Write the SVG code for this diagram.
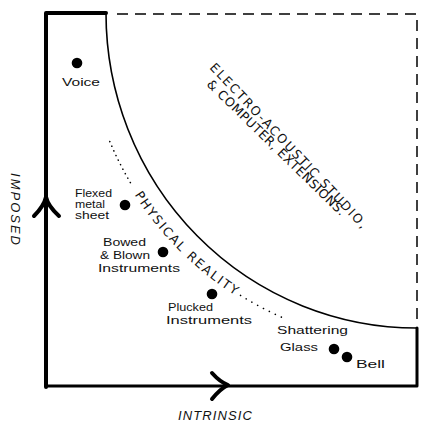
<svg xmlns="http://www.w3.org/2000/svg" width="433" height="426" viewBox="0 0 433 426">
<style>
.lbl{font-family:"Liberation Sans",Arial,sans-serif;font-size:11.5px;fill:#111}
.cap{font-family:"DejaVu Sans","Liberation Sans",sans-serif;font-size:12.5px;fill:#111}
.ax{font-family:"Liberation Sans",Arial,sans-serif;font-size:13px;font-style:italic;fill:#111}
.dot{fill:#000}
.thick{stroke:#000;fill:none;stroke-linecap:round;stroke-linejoin:round}
</style>
<defs>
<path id="physPath" d="M105.5,138.9 A336,336 0 0 0 291.1,324.5"/>
</defs>
<rect width="433" height="426" fill="#fff"/>
<g id="connectors">
<path class="thick" d="M106,13 L46,13 L46,387" stroke-width="4"/>
<path class="thick" d="M46,386 L417,386 L417,328" stroke-width="3"/>
<path d="M106,13 A311,315 0 0 0 417,328" fill="none" stroke="#000" stroke-width="1.6"/>
<path d="M117,14 L417,14 L417,322" fill="none" stroke="#000" stroke-width="1.5" stroke-dasharray="11,7"/>
<path class="thick" d="M34,216 Q44,206 46,197 Q48,206 59,216" stroke-width="4"/>
<path class="thick" d="M212,373 Q220,382 228,385 Q220,389 212,399" stroke-width="4"/>
<path d="M109.8,141.5 A333,333 0 0 0 132.4,186" fill="none" stroke="#000" stroke-width="1.6" stroke-linecap="round" stroke-dasharray="0.1,5"/>
<path d="M240.5,295.4 A333,333 0 0 0 284.8,318.6" fill="none" stroke="#000" stroke-width="1.6" stroke-linecap="round" stroke-dasharray="0.1,6.5"/>
</g>
<g id="axis-imposed">
<text class="ax" transform="translate(11,209) rotate(90)" text-anchor="middle" textLength="72" lengthAdjust="spacing">IMPOSED</text>
</g>
<g id="axis-intrinsic">
<text class="ax" x="178" y="420" textLength="74" lengthAdjust="spacing">INTRINSIC</text>
</g>
<g id="region-electro">
<text class="cap" transform="translate(209,68) rotate(46.5)" textLength="222" lengthAdjust="spacing">ELECTRO-ACOUSTIC STUDIO,</text>
<text class="cap" transform="translate(206,85) rotate(44.3)" textLength="188" lengthAdjust="spacing">&amp; COMPUTER, EXTENSIONS.</text>
</g>
<g id="region-physical">
<text class="cap" font-size="13.5"><textPath href="#physPath" startOffset="63" textLength="143" lengthAdjust="spacing">PHYSICAL REALITY</textPath></text>
</g>
<g id="node-voice">
<circle class="dot" cx="77" cy="63" r="5.3"/>
<text class="lbl" x="62" y="86" font-size="14" textLength="38" lengthAdjust="spacingAndGlyphs">Voice</text>
</g>
<g id="node-flexed">
<circle class="dot" cx="125" cy="205" r="5.3"/>
<text class="lbl" x="75" y="197" font-size="10.5" textLength="37" lengthAdjust="spacingAndGlyphs">Flexed</text>
<text class="lbl" x="75" y="208" font-size="10.5" textLength="30" lengthAdjust="spacingAndGlyphs">metal</text>
<text class="lbl" x="75" y="219" font-size="10.5" textLength="34" lengthAdjust="spacingAndGlyphs">sheet</text>
</g>
<g id="node-bowed">
<circle class="dot" cx="163" cy="252" r="5.3"/>
<text class="lbl" x="103" y="246" font-size="11" textLength="43" lengthAdjust="spacingAndGlyphs">Bowed</text>
<text class="lbl" x="100" y="259" font-size="11" textLength="50" lengthAdjust="spacingAndGlyphs">&amp; Blown</text>
<text class="lbl" x="98" y="272" font-size="11" textLength="82" lengthAdjust="spacingAndGlyphs">Instruments</text>
</g>
<g id="node-plucked">
<circle class="dot" cx="212" cy="294" r="5.3"/>
<text class="lbl" x="168" y="311" textLength="45" lengthAdjust="spacingAndGlyphs">Plucked</text>
<text class="lbl" x="166" y="324" textLength="86" lengthAdjust="spacingAndGlyphs">Instruments</text>
</g>
<g id="node-glass">
<circle class="dot" cx="334" cy="349" r="5.3"/>
<text class="lbl" x="277" y="334" textLength="71" lengthAdjust="spacingAndGlyphs">Shattering</text>
<text class="lbl" x="280" y="351" textLength="38" lengthAdjust="spacingAndGlyphs">Glass</text>
</g>
<g id="node-bell">
<circle class="dot" cx="347" cy="357" r="5.3"/>
<text class="lbl" x="356" y="368" textLength="29" lengthAdjust="spacingAndGlyphs">Bell</text>
</g>
</svg>
